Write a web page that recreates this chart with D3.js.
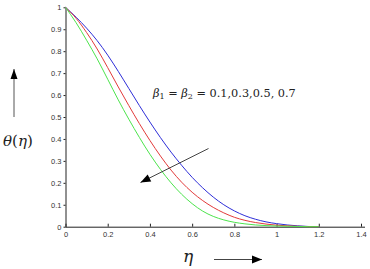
<!DOCTYPE html>
<html><head><meta charset="utf-8">
<script src="https://cdn.jsdelivr.net/npm/d3@7"></script>
<style>body{margin:0;background:#fff}svg{display:block}</style>
</head><body>
<svg id="c" width="370" height="269"></svg>
<script>
const eta = [0,0.05,0.1,0.15,0.2,0.25,0.3,0.35,0.4,0.45,0.5,0.55,0.6,0.65,0.7,0.75,0.8,0.85,0.9,0.95,1.0,1.05,1.1,1.15,1.2];
const thetaBlue = [1,0.955,0.905,0.848,0.782,0.708,0.63,0.552,0.477,0.406,0.34,0.28,0.225,0.177,0.135,0.1,0.072,0.05,0.034,0.022,0.014,0.008,0.004,0.001,0];
const thetaRed = [1,0.95,0.885,0.81,0.725,0.637,0.552,0.47,0.393,0.322,0.258,0.203,0.157,0.119,0.088,0.063,0.043,0.029,0.019,0.012,0.007,0.004,0.002,0.0005,0];
const thetaGreen = [1,0.93,0.85,0.765,0.672,0.578,0.49,0.407,0.33,0.261,0.2,0.148,0.105,0.071,0.047,0.031,0.02,0.013,0.008,0.005,0.003,0.002,0.001,0,0];
const xTicks = [0,0.2,0.4,0.6,0.8,1,1.2,1.4];
const yTicks = [0,0.1,0.2,0.3,0.4,0.5,0.6,0.7,0.8,0.9,1];
const series = [
  {name:"0.1", values: thetaBlue, color:"#2e2ed8"},
  {name:"0.3", values: thetaRed, color:"#e23a3a"},
  {name:"0.5", values: thetaGreen, color:"#4ce44c"}
];

const svg = d3.select("#c");
const x = d3.scaleLinear().domain([0,1.4]).range([65.5,361]);
const y = d3.scaleLinear().domain([0,1]).range([226.7,7.3]);

const fmt = d => String(d);

// x axis
const gx = svg.append("g").attr("transform","translate(0,"+y(0)+")")
  .call(d3.axisBottom(x).tickValues(xTicks).tickFormat(fmt).tickSize(-3).tickSizeOuter(0).tickPadding(4));
gx.select(".domain").attr("d","M"+x(0)+",0.5H365").attr("stroke","#222");
gx.selectAll(".tick line").attr("stroke","#222");
gx.selectAll("text").attr("font-family","Liberation Sans, Arial, sans-serif").attr("font-size","7.5px").attr("fill","#333").attr("dy","0.9em");

// y axis
const gy = svg.append("g").attr("transform","translate("+x(0)+",0)")
  .call(d3.axisLeft(y).tickValues(yTicks).tickFormat(fmt).tickSize(2).tickSizeOuter(0).tickPadding(2));
gy.select(".domain").attr("stroke","#222");
gy.selectAll(".tick line").attr("stroke","#222");
gy.selectAll("text").attr("font-family","Liberation Sans, Arial, sans-serif").attr("font-size","7.5px").attr("fill","#333");

// curves
const line = d3.line().x((d,i)=>x(eta[i])).y(d=>y(d)).curve(d3.curveMonotoneX);
series.forEach(s=>{
  svg.append("path").attr("d", line(s.values)).attr("fill","none")
    .attr("stroke", s.color).attr("stroke-width",1);
});

// arrows
function arrow(x1,y1,x2,y2,hl,hw,color){
  svg.append("line").attr("x1",x1).attr("y1",y1).attr("x2",x2).attr("y2",y2)
    .attr("stroke",color).attr("stroke-width",1);
  const a = Math.atan2(y2-y1,x2-x1);
  const bx = x2 - hl*Math.cos(a), by = y2 - hl*Math.sin(a);
  const px = -Math.sin(a)*hw/2, py = Math.cos(a)*hw/2;
  svg.append("path").attr("d",`M${x2},${y2}L${bx+px},${by+py}L${bx-px},${by-py}Z`).attr("fill","#000");
}
arrow(208.5,148.5,140.5,182.5,10,8,"#444");
arrow(14,117,14,69,10,7,"#555");
arrow(214,259.5,262,259.5,10,8,"#444");

// labels
const lab = svg.append("text").attr("x",153).attr("y",97)
  .attr("font-family","DejaVu Serif, serif").attr("font-size","11.3px").attr("fill","#222");
lab.append("tspan").attr("font-style","italic").text("β");
lab.append("tspan").attr("font-size","8px").attr("dy","2").text("1");
lab.append("tspan").attr("dy","-2").text(" = ");
lab.append("tspan").attr("font-style","italic").text("β");
lab.append("tspan").attr("font-size","8px").attr("dy","2").text("2");
lab.append("tspan").attr("dy","-2").text(" = 0.1,0.3,0.5, 0.7");

const yl = svg.append("text").attr("x",3).attr("y",146)
  .attr("font-family","DejaVu Serif, serif").attr("font-size","15px").attr("fill","#222");
yl.append("tspan").attr("font-style","italic").text("θ");
yl.append("tspan").text("(");
yl.append("tspan").attr("font-style","italic").text("η");
yl.append("tspan").text(")");

svg.append("text").attr("x",183).attr("y",262).attr("font-family","DejaVu Serif, serif")
  .attr("font-style","italic").attr("font-size","17px").attr("fill","#222").text("η");
</script>
</body></html>
